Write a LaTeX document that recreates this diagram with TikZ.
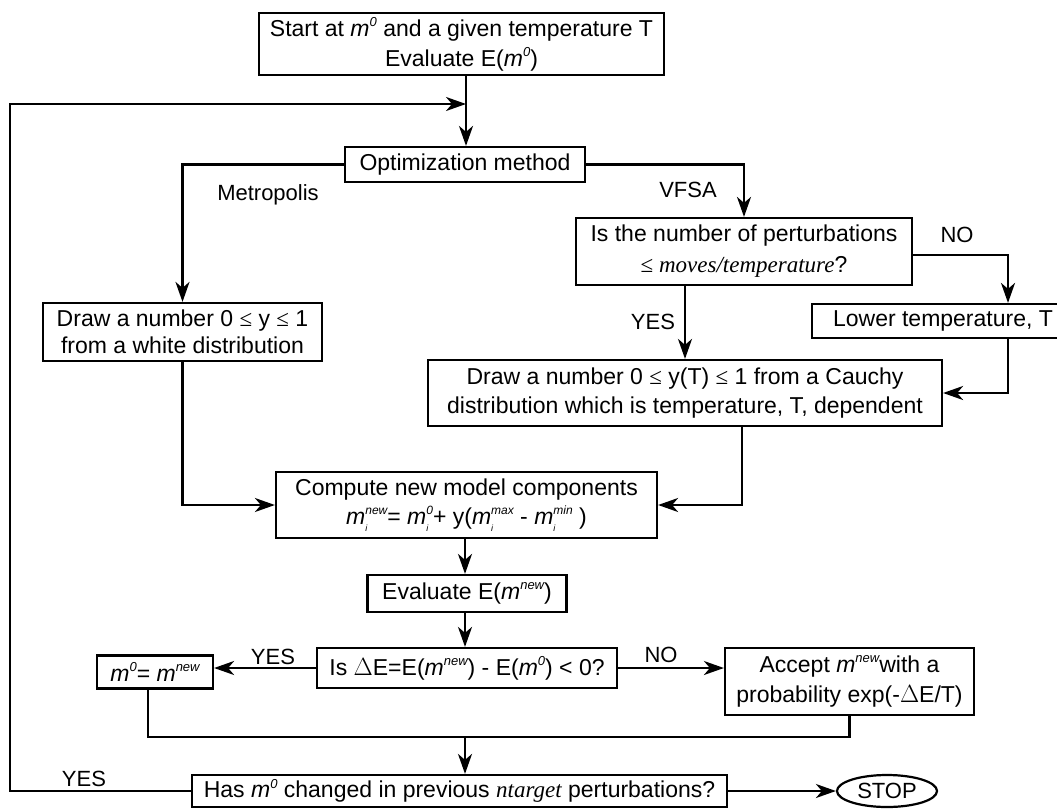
\documentclass[tikz,border=0pt]{standalone}
\usepackage{fontspec}
\setmainfont{Liberation Sans}
\newfontfamily\tms{Liberation Serif}
\usetikzlibrary{arrows.meta,shapes.geometric}
\newcommand\msup[1]{\textit{m}\raisebox{0.8ex}{\fontsize{13}{13}\selectfont\itshape #1}}
\newcommand\misup[1]{\textit{m}\rlap{\raisebox{-0.55ex}{\fontsize{9}{9}\selectfont\itshape i}}\raisebox{0.8ex}{\fontsize{12}{12}\selectfont\itshape #1}}
\begin{document}
\begin{tikzpicture}[x=1pt,y=-1pt,
  blk/.style={draw,line width=2.2pt,inner sep=0pt,align=center,font=\fontsize{23}{30}\selectfont},
  lbl/.style={inner sep=0pt,font=\fontsize{22}{26}\selectfont},
  line/.style={line width=2.2pt},
  arr/.style={line width=2.2pt,-{Stealth[length=20pt,width=14pt,inset=6pt]}}]
\useasboundingbox (0,0) rectangle (1057,809);
\node[blk,minimum width=405pt,minimum height=62pt] (start) at (461.5,44)
  {Start at \msup{0} and a given temperature T\\Evaluate E(\msup{0})};
\node[blk,minimum width=240pt,minimum height=35pt] (opt) at (465,164.5) {Optimization method};
\node[blk,minimum width=336pt,minimum height=67pt,font=\fontsize{23}{31}\selectfont] (vfsa) at (744,251.5)
  {Is the number of perturbations\\{\tms ≤ \textit{moves/temperature}}?};
\node[blk,minimum width=262pt,minimum height=34pt] (lower) at (943,321) {Lower temperature, T};
\node[blk,minimum width=279pt,minimum height=58pt,font=\fontsize{23}{27}\selectfont] (draw) at (182.5,332)
  {Draw a number 0 {\tms ≤} y {\tms ≤} 1\\from a white distribution};
\node[blk,minimum width=514pt,minimum height=66pt,font=\fontsize{23}{29}\selectfont] (cauchy) at (685,393)
  {Draw a number 0 {\tms ≤} y(T) {\tms ≤} 1 from a Cauchy\\distribution which is temperature, T, dependent};
\node[blk,minimum width=381pt,minimum height=66pt,font=\fontsize{23}{29}\selectfont] (compute) at (466.5,505)
  {Compute new model components\\\misup{new}= \misup{0}+ y(\misup{max} - \misup{min} )};
\node[blk,minimum width=199pt,minimum height=37pt] (eval) at (467,593.5) {Evaluate E(\msup{new})};
\node[blk,minimum width=300pt,minimum height=40pt] (dec) at (467,668)
  {Is $\Delta$E=E(\msup{new}) - E(\msup{0}) < 0?};
\node[blk,minimum width=116pt,minimum height=33pt] (m0) at (155,672) {\msup{0}= \msup{new}};
\node[blk,minimum width=249pt,minimum height=67pt,font=\fontsize{23}{30}\selectfont] (accept) at (849.5,681.5)
  {Accept \msup{new}with a\\probability exp(-$\Delta$E/T)};
\node[blk,minimum width=535pt,minimum height=32pt] (has) at (459.5,791)
  {Has \msup{0} changed in previous {\tms\itshape ntarget} perturbations?};
\node[blk,ellipse,minimum width=100pt,minimum height=32pt,font=\fontsize{22}{24}\selectfont] (stop) at (887,791) {STOP};
% labels
\node[lbl] (lmet) at (268,195) {Metropolis};
\node[lbl] (lvfsa) at (688,190) {VFSA};
\node[lbl] (lno1) at (957,235) {NO};
\node[lbl] (lyes1) at (653,322) {YES};
\node[lbl] (lyes2) at (273,657) {YES};
\node[lbl] (lno2) at (661,655) {NO};
\node[lbl] (lyes3) at (84,779) {YES};
% connectors
\coordinate (loop) at (466,104);
\coordinate (lc) at (10,104);
\coordinate (mg) at (465,737);
\draw[arr] (start.south -| loop) -- (opt.north -| loop);
\draw[arr] (has.west) -| (lc) -- (loop);
\draw[arr] (opt.west) -| (draw.north);
\draw[arr] (opt.east) -| (vfsa.north);
\draw[arr] ([yshift=-3.5pt]vfsa.east) -| ([xshift=65pt]lower.north);
\draw[arr] ([xshift=65pt]lower.south) |- (cauchy.east);
\draw[arr] ([xshift=-59pt]vfsa.south) -- ([xshift=-59pt]vfsa.south |- cauchy.north);
\draw[arr] (draw.south) |- (compute.west);
\draw[arr] ([xshift=57pt]cauchy.south) |- (compute.east);
\draw[arr] (compute.south -| mg) -- (eval.north -| mg);
\draw[arr] (eval.south -| mg) -- (dec.north -| mg);
\draw[arr] (dec.west) -- (m0.east |- dec.west);
\draw[arr] (dec.east) -- (accept.west |- dec.east);
\draw[line] ([xshift=-7pt]m0.south) |- (mg) -| (accept.south);
\draw[arr] (mg) -- (has.north -| mg);
\draw[arr] (has.east) -- (stop.west);
\end{tikzpicture}
\end{document}
